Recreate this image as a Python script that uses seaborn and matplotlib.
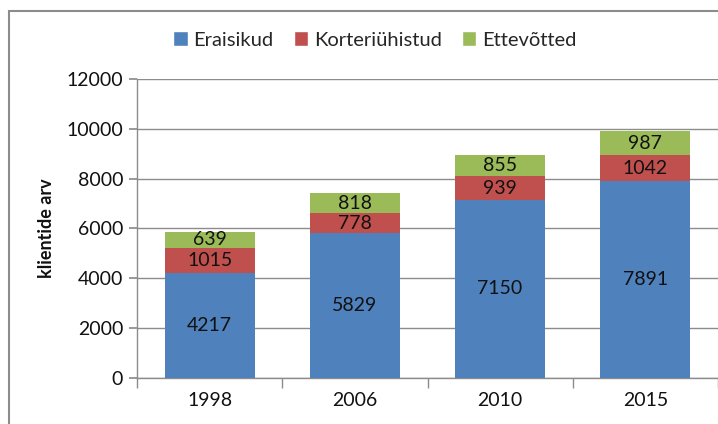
import matplotlib
matplotlib.use("Agg")
import matplotlib.pyplot as plt
import seaborn as sns
import numpy as np
from matplotlib.patches import Rectangle, Patch

# data
years = ['1998', '2006', '2010', '2015']
eraisikud = [4217, 5829, 7150, 7891]
korteriuhistud = [1015, 778, 939, 1042]
ettevotted = [639, 818, 855, 987]
series = [('Eraisikud', eraisikud, '#4F81BD'),
          ('Korteriühistud', korteriuhistud, '#C0504D'),
          ('Ettevõtted', ettevotted, '#9BBB59')]

sns.set_theme(style='white')
plt.rcParams['font.family'] = ['Lato', 'DejaVu Sans']

fig = plt.figure(figsize=(7.18, 4.24), dpi=100)
ax = fig.add_axes([137/718, 1 - 378/424, 1 - 137/718, 299/424])

bottom = np.zeros(len(years))
handles = []
for name, vals, col in series:
    sns.barplot(x=years, y=vals, bottom=bottom, color=col, width=0.62,
                saturation=1, linewidth=0, ax=ax, zorder=3)
    cont = ax.containers[-1]
    ax.bar_label(cont, labels=[str(v) for v in vals], label_type='center',
                 fontsize=14, color='#111111')
    bottom = bottom + np.array(vals)
    handles.append(Patch(facecolor=col, label=name))

ax.set_ylim(0, 12000)
ax.set_yticks(range(0, 12001, 2000))
ax.set_xlim(-0.5, 3.5)
ax.yaxis.grid(True, color='#8c8c8c', linewidth=1, zorder=0)
ax.set_axisbelow(True)

for s in ['top', 'right']:
    ax.spines[s].set_visible(False)
for s in ['left', 'bottom']:
    ax.spines[s].set_color('#8c8c8c')
    ax.spines[s].set_linewidth(1)

ax.tick_params(axis='y', length=6, color='#8c8c8c', labelsize=14,
               labelcolor='#111111', left=True, pad=4)
ax.set_xticks(range(len(years)))
ax.set_xticklabels(years)
ax.tick_params(axis='x', which='major', length=0, labelsize=14,
               labelcolor='#111111', pad=10)
ax.set_xticks(np.arange(-0.5, len(years), 1), minor=True)
ax.tick_params(axis='x', which='minor', length=7, color='#8c8c8c',
               bottom=True)
ax.set_xlabel('')
ax.set_ylabel('klientide arv', fontsize=13, fontweight='bold',
              color='#111111', labelpad=8)

fig.legend(handles=handles, loc='center', bbox_to_anchor=(375/718, 1 - 40/424),
           ncol=3, frameon=False, fontsize=14.5, handlelength=0.7,
           handleheight=0.7, handletextpad=0.3, columnspacing=1.0)

# outer chart frame
fig.patches.append(Rectangle((9/718, -0.1), 2, 1.1 - 11/424, transform=fig.transFigure,
                             fill=False, edgecolor='#8c8c8c', linewidth=1.5))

fig.savefig('out.png', dpi=100)
